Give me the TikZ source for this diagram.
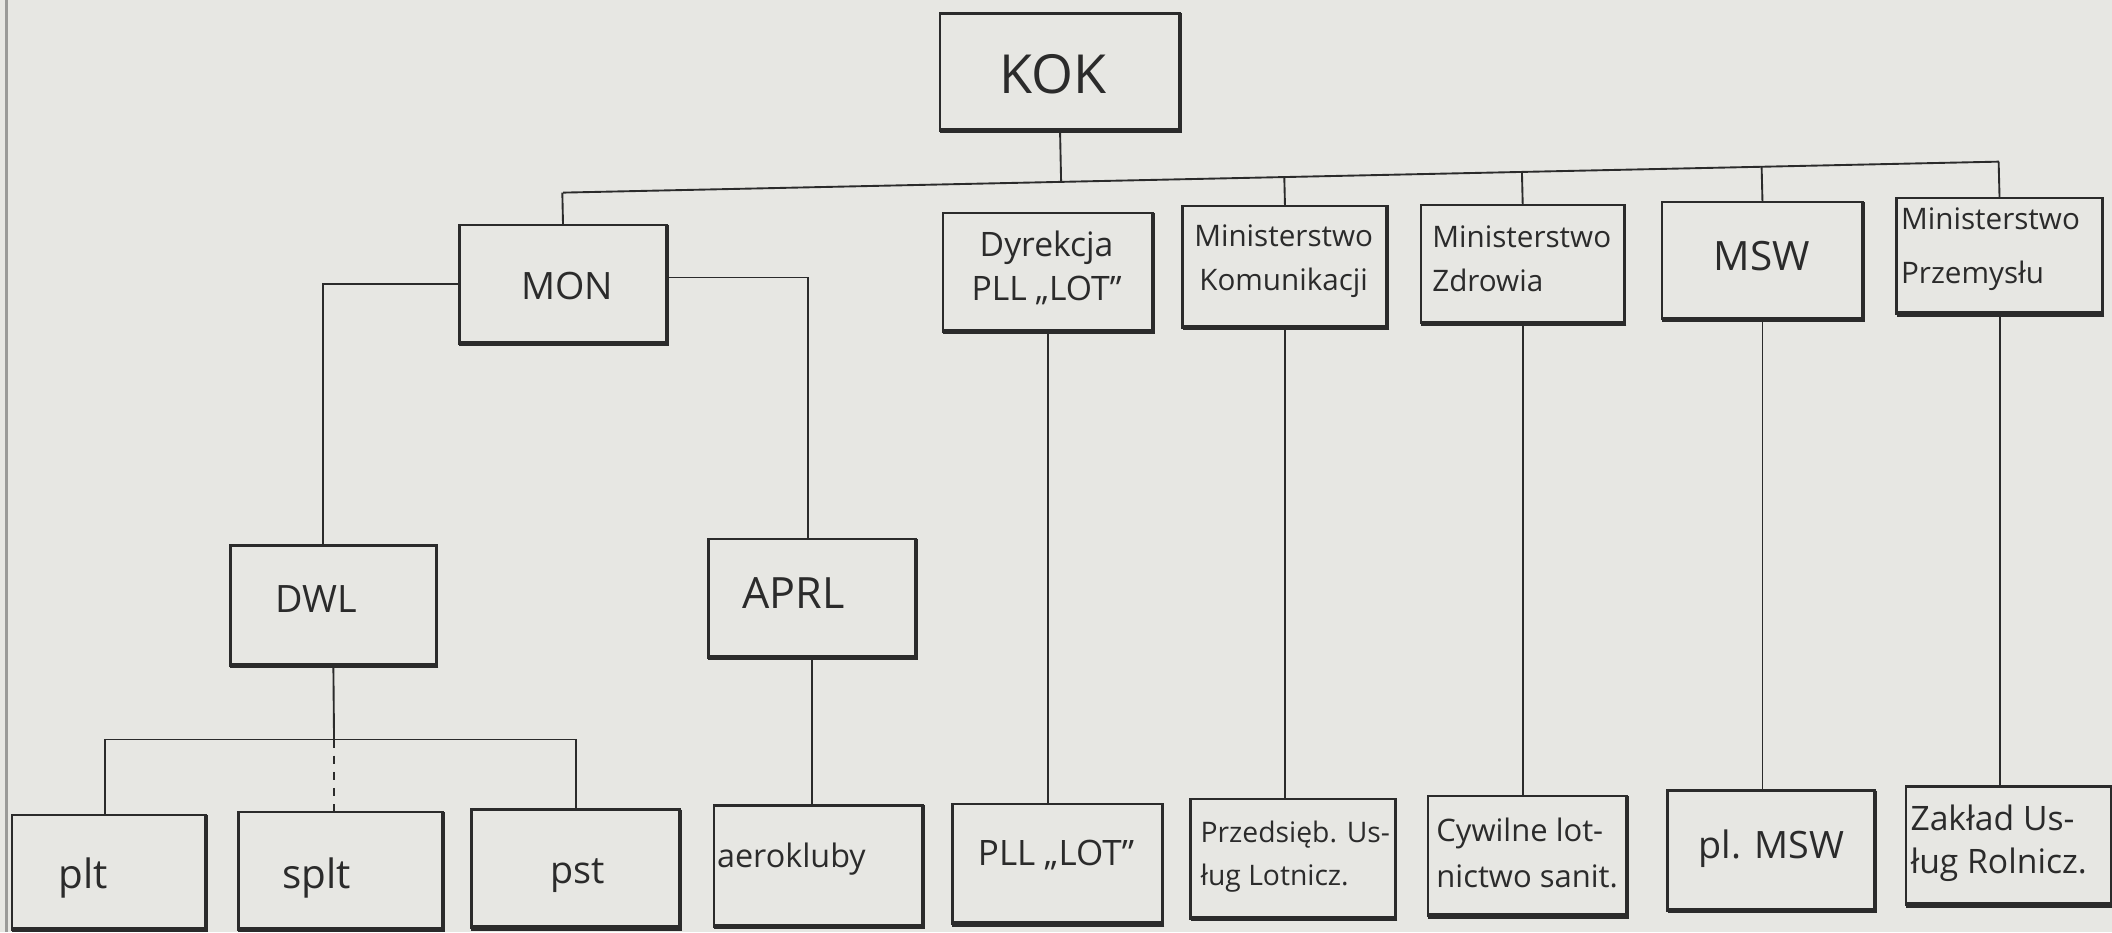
\documentclass[tikz,border=0pt]{standalone}
\usepackage{fontspec}
\setmainfont{Open Sans}
\usetikzlibrary{calc}
\definecolor{paper}{HTML}{E7E7E3}
\definecolor{ink}{HTML}{2B2B2B}
\definecolor{edge}{HTML}{9A9A98}
\newcommand\orgbox[5]{\node[box, minimum width={(#4-#2)*0.5pt}, minimum height={(#5-#3)*0.5pt}] (#1) at ({(#2+#4)/2},{(#3+#5)/2}) {};}
\newcommand\fs[2]{\fontsize{#1}{#2}\selectfont}
\tikzset{
  box/.style={draw=ink, line width=0.9pt, inner sep=0pt, outer sep=0pt},
  heavyb/.style={draw=ink, line width=2pt},
  heavyr/.style={draw=ink, line width=1.4pt},
  wire/.style={draw=ink, line width=0.7pt},
  lbl/.style={text=ink, inner sep=0pt},
}
\begin{document}
\begin{tikzpicture}[x=0.5pt, y=-0.5pt]
\fill[paper] (0,0) rectangle (1568,692);
\useasboundingbox (0,0) rectangle (1568,692);
\draw[edge, line width=1pt] (5,0) -- (5,692);

% boxes
\orgbox{kok}{698}{10}{876}{97}
\orgbox{mon}{341}{167}{495}{255}
\orgbox{dyr}{700}{158}{856}{246}
\orgbox{kom}{878}{153}{1030}{243}
\orgbox{zdr}{1055}{152}{1206}{240}
\orgbox{msw}{1234}{150}{1383}{237}
\orgbox{prz}{1408}{147}{1561}{233}
\orgbox{dwl}{171}{405}{324}{494}
\orgbox{aprl}{526}{400}{680}{488}
\orgbox{plt}{9}{605}{153}{690}
\orgbox{splt}{177}{603}{329}{690}
\orgbox{pst}{350}{601}{505}{689}
\orgbox{aer}{530}{598}{685}{688}
\orgbox{pll}{707}{597}{863}{686}
\orgbox{przl}{884}{593}{1036}{682}
\orgbox{cyw}{1060}{591}{1208}{680}
\orgbox{plmsw}{1238}{587}{1392}{676}
\orgbox{zak}{1415}{584}{1568}{672}

\foreach \n in {kok,mon,dyr,kom,zdr,msw,prz,dwl,aprl,plt,splt,pst,aer,pll,przl,cyw,plmsw,zak}{
  \draw[heavyr] (\n.north east) -- (\n.south east);
  \draw[heavyb] ([xshift=0.7pt]\n.south east) -- (\n.south west);
}

% labels
\node[lbl, font=\fs{20}{24}] (t-kok) at (782,55) {KOK};
\node[lbl, font=\fs{14}{17}] (t-mon) at (421,212) {MON};
\node[lbl, font=\fs{12.5}{16.5}, align=center] (t-dyr) at (777,199) {Dyrekcja\\PLL „LOT”};
\node[lbl, font=\fs{11}{16.5}, align=center] (t-kom) at (953,194) {Ministerstwo\\Komunikacji};
\node[lbl, font=\fs{11}{16.5}, align=left, anchor=west] (t-zdr) at (1063,192) {Ministerstwo\\Zdrowia};
\node[lbl, font=\fs{15}{18}] (t-msw) at (1308,190) {MSW};
\node[lbl, font=\fs{11}{20}, align=left, anchor=west] (t-prz) at (1411,185) {Ministerstwo\\Przemysłu};
\node[lbl, font=\fs{14}{17}] (t-dwl) at (235,445) {DWL};
\node[lbl, font=\fs{16}{19}] (t-aprl) at (589,440) {APRL};
\node[lbl, font=\fs{15}{18}] (t-plt) at (62,652) {plt};
\node[lbl, font=\fs{15}{18}] (t-splt) at (235,652) {splt};
\node[lbl, font=\fs{14}{17}] (t-pst) at (429,650) {pst};
\node[lbl, font=\fs{12}{15}, anchor=west] (t-aer) at (532,638) {aerokluby};
\node[lbl, font=\fs{13}{16}] (t-pll) at (784,635) {PLL „LOT”};
\node[lbl, font=\fs{10.5}{16}, align=left, anchor=west] (t-przl) at (891,636) {Przedsięb. Us-\\ług Lotnicz.};
\node[lbl, font=\fs{11.5}{17}, align=left, anchor=west] (t-cyw) at (1066,633) {Cywilne lot-\\nictwo sanit.};
\node[lbl, font=\fs{14}{17}] (t-plmsw) at (1315,630) {pl. MSW};
\node[lbl, font=\fs{12.5}{16}, align=left, anchor=west] (t-zak) at (1418,626) {Zakład Us-\\ług Rolnicz.};

% top bus
\coordinate (busL) at (418,143);
\coordinate (busR) at (1484,120);
\draw[wire] (busL) -- (busR);
\draw[wire] (kok.south) -- ($(busL)!(kok.south)!(busR)$);
\foreach \n in {mon,kom,zdr,msw,prz}{
  \draw[wire] (\n.north) -- ($(busL)!(\n.north)!(busR)$);
}

% MON branches
\draw[wire] (mon.west) -| ([xshift=-3.75pt]dwl.north);
\draw[wire] ([yshift=2.5pt]mon.east) -| ([xshift=-1.5pt]aprl.north);

% DWL bus
\coordinate (dj) at (248,549);
\coordinate (pltj) at (78,549);
\draw[wire] (dwl.south) -- (dj);
\draw[wire] (pltj) -- (pst.north |- dj);
\draw[wire] (pltj) -- (pltj |- plt.north);
\draw[wire, dashed] (dj) -- (dj |- splt.north);
\draw[wire] (pst.north |- dj) -- (pst.north);

% verticals
\draw[wire] (aprl.south) -- (aprl.south |- aer.north);
\draw[wire] (dyr.south) -- (dyr.south |- pll.north);
\draw[wire] (kom.south) -- (kom.south |- przl.north);
\draw[wire] (zdr.south) -- (zdr.south |- cyw.north);
\draw[wire] (msw.south) -- (msw.south |- plmsw.north);
\draw[wire] (prz.south) -- (prz.south |- zak.north);
\end{tikzpicture}
\end{document}
